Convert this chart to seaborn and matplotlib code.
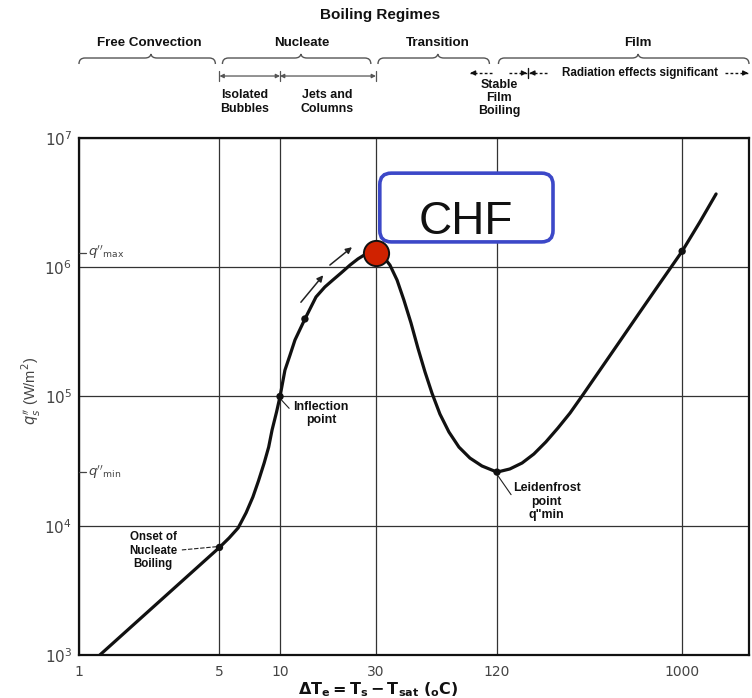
import numpy as np
import matplotlib
matplotlib.use("Agg")
import matplotlib.pyplot as plt
import seaborn as sns
import pandas as pd
from matplotlib.patches import FancyBboxPatch, PathPatch
from matplotlib.path import Path
from matplotlib.lines import Line2D
from matplotlib.transforms import blended_transform_factory

# ---- boiling curve (excess temperature in C, heat flux in W/m^2) ----
delta_T = [1.27, 5.0, 5.58, 6.19, 6.78, 7.33, 7.81, 8.34, 8.78, 9.13, 9.61,
           10.0, 10.58, 11.21, 11.87, 13.3, 15.1, 16.7, 18.3, 20.1, 22.3, 24.4,
           26.8, 30.0, 32.5, 35.2, 38.2, 41.3, 44.8, 48.5, 52.6, 57.0, 62.4,
           69.2, 77.6, 88.0, 101.0, 120.0, 139.0, 160.0, 183.0, 210.0, 241.0,
           277.0, 318.0, 390.0, 491.0, 617.0, 776.0, 1000.0, 1225.0, 1475.0]
heat_flux = [1.0e3, 6.8e3, 8.04e3, 9.62e3, 1.26e4, 1.67e4, 2.22e4, 3.06e4,
             4.06e4, 5.51e4, 7.59e4, 1.0e5, 1.6e5, 2.09e5, 2.74e5, 3.98e5,
             5.89e5, 7.03e5, 7.96e5, 9.02e5, 1.04e6, 1.16e6, 1.27e6, 1.3e6,
             1.22e6, 1.04e6, 7.96e5, 5.58e5, 3.71e5, 2.37e5, 1.55e5, 1.06e5,
             7.32e4, 5.31e4, 4.06e4, 3.34e4, 2.9e4, 2.6e4, 2.75e4, 3.06e4,
             3.59e4, 4.45e4, 5.7e4, 7.45e4, 1.01e5, 1.6e5, 2.69e5, 4.51e5,
             7.55e5, 1.33e6, 2.24e6, 3.69e6]

# marked points on the curve
dot_T = [5.0, 10.0, 13.3, 120.0, 1000.0]
dot_q = [6.8e3, 1.0e5, 3.98e5, 2.6e4, 1.33e6]

# critical heat flux and Leidenfrost point
chf_T, q_max = 30.0, 1.3e6
leid_T, q_min = 120.0, 2.6e4

x_ticks = [1, 5, 10, 30, 120, 1000]
x_tick_labels = ["1", "5", "10", "30", "120", "1000"]
y_ticks = [1e3, 1e4, 1e5, 1e6, 1e7]
y_tick_labels = [r"$10^{3}$", r"$10^{4}$", r"$10^{5}$", r"$10^{6}$", r"$10^{7}$"]

regimes = ["Free Convection", "Nucleate", "Transition", "Film"]
regime_spans = [(1.0, 4.77), (5.17, 28.3), (30.7, 110.0), (122.0, 2150.0)]
regime_peaks = [2.28, 12.7, 60.9, 604.0]
regime_label_T = [2.23, 12.9, 61.0, 600.0]

X_MIN, X_MAX = 1.0, 2150.0

sns.set_style("white")
plt.rcParams["font.family"] = ["Liberation Sans", "DejaVu Sans"]

fig = plt.figure(figsize=(7.52, 6.98), dpi=100)
ax = fig.add_axes([0.105, 0.0616, 0.891, 0.7407])

df = pd.DataFrame({"dT": delta_T, "q": heat_flux})
sns.lineplot(data=df, x="dT", y="q", sort=False, estimator=None,
             color="#111111", lw=2.3, ax=ax, zorder=4)
sns.scatterplot(x=dot_T, y=dot_q, color="#111111", s=28, edgecolor="none",
                ax=ax, zorder=5)

ax.set_xscale("log")
ax.set_yscale("log")
ax.set_xlim(X_MIN, X_MAX)
ax.set_ylim(1e3, 1e7)
ax.minorticks_off()
ax.set_xticks(x_ticks)
ax.set_xticklabels(x_tick_labels)
ax.set_yticks(y_ticks)
ax.set_yticklabels(y_tick_labels)
ax.tick_params(axis="both", length=0, labelcolor="#444444")
ax.tick_params(axis="x", pad=7, labelsize=10)
ax.tick_params(axis="y", pad=5, labelsize=11)
for lab in ax.get_xticklabels():
    lab.set_fontfamily(["DejaVu Sans"])
ax.grid(True, which="major", color="#333333", lw=0.9)
for sp in ax.spines.values():
    sp.set_color("#111111")
    sp.set_linewidth(1.6)

ax.set_ylabel(r"$q_s''$ (W/m$^2$)", fontsize=10.5, color="#444444")
ax.yaxis.set_label_coords(-0.054, 0.51)
ax.set_xlabel(r"$\mathbf{\Delta T_e = T_s - T_{sat}\ (_{o}C)}$", fontsize=11.5,
              color="#111111")
ax.xaxis.set_label_coords(0.446, -0.049)

# q''max / q''min markers on the heat-flux axis
ytrans = blended_transform_factory(ax.transAxes, ax.transData)
for val, name in [(q_max, "max"), (q_min, "min")]:
    ax.plot([0.0, 0.011], [val, val], transform=ytrans, color="#444444", lw=0.9,
            clip_on=False, zorder=6)
    ax.text(0.014, val, r"$q''_{\rm %s}$" % name, transform=ytrans, ha="left",
            va="center", fontsize=9.5, color="#444444")

# critical heat flux
sns.scatterplot(x=[chf_T], y=[q_max], s=330, color="#d02200", edgecolor="#111111",
                linewidth=1.4, ax=ax, zorder=8)

# direction arrows along the nucleate branch
for (t0, q0), (t1, q1) in [((12.7, 5.36e5), (16.4, 8.67e5)),
                           ((17.7, 1.04e6), (22.8, 1.43e6))]:
    ax.annotate("", xy=(t1, q1), xytext=(t0, q0),
                arrowprops=dict(arrowstyle="-|>", color="#222222", lw=1.1,
                                mutation_scale=9, shrinkA=0, shrinkB=0))

# CHF callout
box = FancyBboxPatch((0.449, 0.799), 0.2585, 0.133,
                     boxstyle="round,pad=0,rounding_size=0.017",
                     mutation_aspect=670 / 517, transform=ax.transAxes,
                     facecolor="white", edgecolor="#3c48c8", lw=2.6, zorder=7)
ax.add_patch(box)
ax.text(0.578, 0.814, "CHF", transform=ax.transAxes, ha="center", va="baseline",
        fontsize=33, color="#111111", zorder=7.5)

# point annotations
lbl = dict(fontweight="bold", color="#111111", ha="center", va="center",
           linespacing=1.15, zorder=6)
ax.text(2.34, 6.4e3, "Onset of\nNucleate\nBoiling", fontsize=8.3, **lbl)
ax.plot([3.25, 4.9], [6.5e3, 6.9e3], color="#222222", lw=0.8, ls=(0, (4, 1.5)))
ax.text(16.0, 7.4e4, "Inflection\npoint", fontsize=8.9, **lbl)
ax.plot([10.1, 11.1], [9.5e4, 8.1e4], color="#222222", lw=0.8)
ax.text(212.0, 1.54e4, "Leidenfrost\npoint\nq\"min", fontsize=8.9, **lbl)
ax.plot([121.0, 141.0], [2.45e4, 1.74e4], color="#222222", lw=0.8)

# ---- regime annotations above the axes ----
top = blended_transform_factory(ax.transAxes, fig.transFigure)
lx = np.log10(X_MAX / X_MIN)


def fx(t):
    return np.log10(t / X_MIN) / lx


fig.text(0.505, 0.9785, "Boiling Regimes", ha="center", va="center",
         fontsize=11, fontweight="bold", color="#111111")

y_end, y_line, y_peak = 0.9083, 0.9169, 0.9226
d = 0.009
for name, (t0, t1), tp, tl in zip(regimes, regime_spans, regime_peaks, regime_label_T):
    x0, x1, xm = fx(t0), fx(t1), fx(tp)
    verts = [(x0, y_end), (x0, y_line), (x0 + d, y_line),
             (xm - d, y_line), (xm - 0.001, y_line), (xm, y_peak),
             (xm + 0.001, y_line), (xm + d, y_line),
             (x1 - d, y_line), (x1, y_line), (x1, y_end)]
    codes = [Path.MOVETO, Path.CURVE3, Path.CURVE3,
             Path.LINETO, Path.CURVE3, Path.CURVE3,
             Path.CURVE3, Path.CURVE3,
             Path.LINETO, Path.CURVE3, Path.CURVE3]
    patch = PathPatch(Path(verts, codes), transform=top, facecolor="none",
                      edgecolor="#555555", lw=1.0, clip_on=False)
    fig.add_artist(patch)
    ax.text(fx(tl), 0.938, name, transform=top, ha="center", va="center",
            fontsize=9.6, fontweight="bold", color="#111111")

# nucleate sub-regimes
y_sub = 0.8911
for a, b in [(5.0, 10.0), (10.0, 30.0)]:
    ax.annotate("", xy=(fx(b), y_sub), xytext=(fx(a), y_sub), xycoords=top,
                textcoords=top,
                arrowprops=dict(arrowstyle="<|-|>", color="#555555", lw=0.9,
                                mutation_scale=6, shrinkA=0, shrinkB=0))
for t in [5.0, 10.0, 30.0]:
    fig.add_artist(Line2D([fx(t), fx(t)], [y_sub - 0.007, y_sub + 0.007],
                          transform=top, color="#555555", lw=0.9))
sub = dict(transform=top, ha="center", va="center", fontsize=8.9,
           fontweight="bold", color="#111111", linespacing=1.15)
ax.text(fx(6.65), 0.854, "Isolated\nBubbles", **sub)
ax.text(fx(17.1), 0.854, "Jets and\nColumns", **sub)
ax.text(fx(123.0), 0.8596, "Stable\nFilm\nBoiling", **sub)

# film boiling: dashed arrows
y_arr = 0.8954


def dashed_arrow(tail, head):
    xt, xh = fx(tail), fx(head)
    fig.add_artist(Line2D([xt, xh], [y_arr, y_arr], transform=top, color="#111111",
                          lw=1.0, ls=(0, (2, 1.6))))
    back = xh + (0.008 if xt > xh else -0.008)
    ax.annotate("", xy=(xh, y_arr), xytext=(back, y_arr), xycoords=top,
                textcoords=top,
                arrowprops=dict(arrowstyle="-|>", color="#111111", lw=1.0,
                                mutation_scale=7, shrinkA=0, shrinkB=0))


dashed_arrow(113.0, 88.2)
dashed_arrow(137.0, 169.0)
dashed_arrow(213.0, 174.0)
dashed_arrow(1637.0, 2130.0)
fig.add_artist(Line2D([fx(171.0)] * 2, [y_arr - 0.007, y_arr + 0.007],
                      transform=top, color="#111111", lw=1.0))
ax.text(fx(614.0), y_arr, "Radiation effects significant", transform=top,
        ha="center", va="center", fontsize=8.4, fontweight="bold",
        color="#111111")

fig.savefig("out.png", dpi=100, facecolor="white")
